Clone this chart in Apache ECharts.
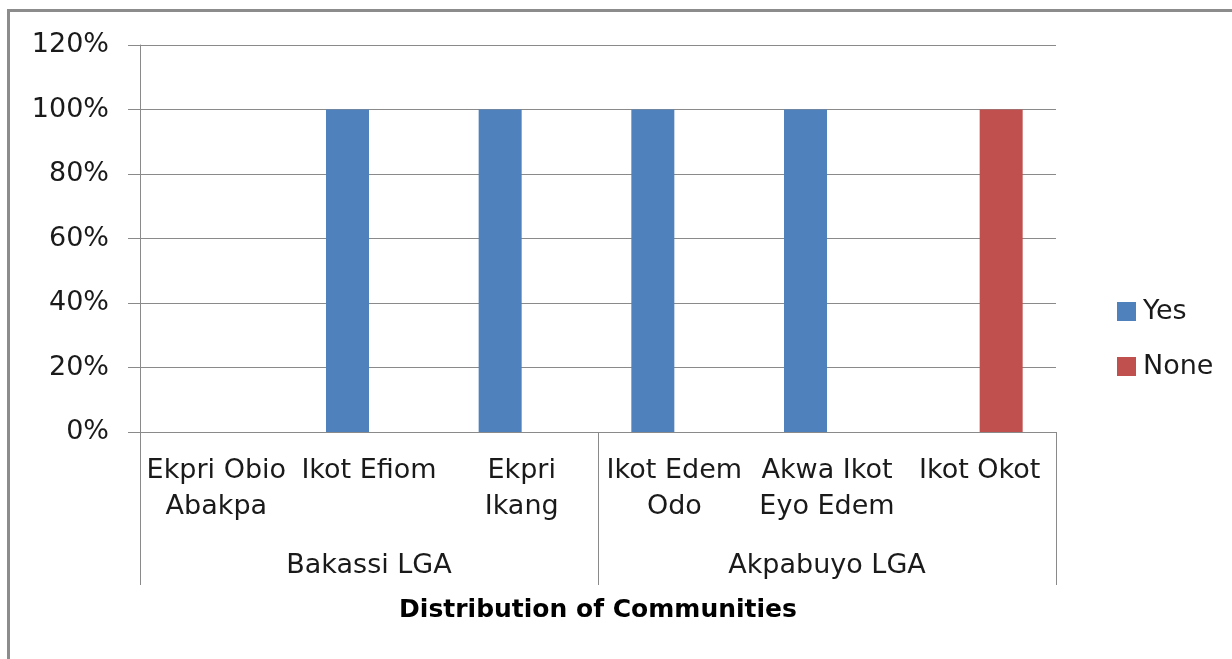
<!DOCTYPE html>
<html>
<head>
<meta charset="utf-8">
<script src="https://cdn.jsdelivr.net/npm/echarts@6/dist/echarts.min.js"></script>
<style>
  html, body { margin: 0; padding: 0; background: #fff; }
  #chart { width: 1232px; height: 659px; }
</style>
</head>
<body>
<div id="chart"></div>
<script>
const communities = ['Ekpri Obio\nAbakpa', 'Ikot Efiom', 'Ekpri\nIkang', 'Ikot Edem\nOdo', 'Akwa Ikot\nEyo Edem', 'Ikot Okot'];
const lgas = ['Bakassi LGA', 'Akpabuyo LGA'];
const yesValues = [0, 100, 100, 100, 100, 0];
const noneValues = [0, 0, 0, 0, 0, 100];
const yTicks = { min: 0, max: 120, interval: 20 };

const chart = echarts.init(document.getElementById('chart'));
const font = 'DejaVu Sans';
const gray = '#8a8a8a';

const option = {
  animation: false,
  textStyle: { fontFamily: font },
  graphic: [{
    type: 'rect',
    shape: { x: 8.5, y: 10.5, width: 1260, height: 700 },
    style: { fill: 'none', stroke: '#8c8c8c', lineWidth: 3 }
  }],
  grid: { left: 140, right: 176, top: 45, bottom: 227 },
  legend: {
    orient: 'vertical',
    left: 1112,
    top: 293,
    itemWidth: 19,
    itemHeight: 19,
    itemGap: 28,
    icon: 'rect',
    textStyle: { fontSize: 27, color: '#1a1a1a', fontFamily: font, padding: [0, 0, 0, 2] },
    data: ['Yes', 'None']
  },
  xAxis: [{
    type: 'category',
    data: communities,
    axisLine: { show: true, lineStyle: { color: gray, width: 1 } },
    axisTick: { show: false },
    axisLabel: {
      interval: 0,
      margin: 21,
      fontSize: 27,
      lineHeight: 36,
      color: '#1a1a1a',
      fontFamily: font
    }
  }, {
    type: 'category',
    data: lgas,
    position: 'bottom',
    axisLine: { show: false },
    axisTick: { show: true, length: 153, interval: 0, lineStyle: { color: gray, width: 1 } },
    axisLabel: { margin: 120, fontSize: 27, color: '#1a1a1a', fontFamily: font },
    name: 'Distribution of Communities',
    nameLocation: 'middle',
    nameGap: 166,
    nameTextStyle: { fontSize: 25, fontWeight: 'bold', color: '#000', fontFamily: font }
  }],
  yAxis: {
    type: 'value',
    min: yTicks.min,
    max: yTicks.max,
    interval: yTicks.interval,
    axisLine: { show: true, lineStyle: { color: gray, width: 1 } },
    axisTick: { show: true, length: 12, lineStyle: { color: gray, width: 1 } },
    splitLine: { show: true, lineStyle: { color: gray, width: 1 } },
    axisLabel: {
      formatter: '{value}%',
      margin: 31,
      fontSize: 27,
      color: '#1a1a1a',
      fontFamily: font
    }
  },
  series: [{
    name: 'Yes',
    type: 'bar',
    data: yesValues,
    barWidth: 43,
    barGap: '0%',
    itemStyle: { color: '#4f81bd' }
  }, {
    name: 'None',
    type: 'bar',
    data: noneValues,
    barWidth: 43,
    barGap: '0%',
    itemStyle: { color: '#c0504d' }
  }]
};
chart.setOption(option);
</script>
</body>
</html>
